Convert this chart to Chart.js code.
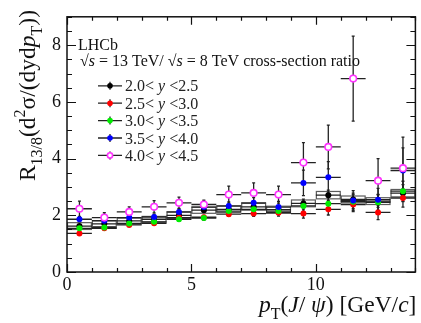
<!DOCTYPE html>
<html>
<head>
<meta charset="utf-8">
<script src="https://cdn.jsdelivr.net/npm/chart.js@4.4.1/dist/chart.umd.min.js"></script>
<style>
  html, body { margin: 0; padding: 0; background: #fff; }
  canvas { display: block; }
</style>
</head>
<body>
<canvas id="c" width="421" height="323"></canvas>
<script>
// J/psi pT bins [GeV/c]: centres and half widths
const ptCentres   = [0.5, 1.5, 2.5, 3.5, 4.5, 5.5, 6.5, 7.5, 8.5, 9.5, 10.5, 11.5, 12.5, 13.5];
const ptHalfWidth = [0.5, 0.5, 0.5, 0.5, 0.5, 0.5, 0.5, 0.5, 0.5, 0.5, 0.5, 0.5, 0.5, 0.5];

// rapidity intervals
const yLow  = [2.0, 2.5, 3.0, 3.5, 4.0];
const yHigh = [2.5, 3.0, 3.5, 4.0, 4.5];

// 13 TeV / 8 TeV cross-section ratio per rapidity interval
const ratioY20 = [1.62, 1.70, 1.80, 1.86, 2.00, 2.18, 2.21, 2.30, 2.20, 2.42, 2.71, 2.56, 2.50, 2.78];
const ratioY25 = [1.36, 1.54, 1.66, 1.72, 1.92, 1.93, 2.04, 2.06, 2.09, 2.06, 2.21, 2.38, 2.10, 2.61];
const ratioY30 = [1.54, 1.57, 1.71, 1.77, 1.86, 1.90, 2.15, 2.21, 2.15, 2.33, 2.41, 2.48, 2.46, 2.85];
const ratioY35 = [1.86, 1.81, 1.92, 1.94, 2.12, 2.29, 2.33, 2.44, 2.29, 3.14, 3.34, 2.52, 2.55, 3.58];
const ratioY40 = [2.23, 1.92, 2.12, 2.30, 2.44, 2.38, 2.73, 2.79, 2.73, 3.86, 4.41, 6.82, 3.22, 3.66];

// statistical uncertainties
const statY20 = [0.05, 0.05, 0.05, 0.05, 0.06, 0.07, 0.08, 0.10, 0.12, 0.15, 0.18, 0.22, 0.22, 0.30];
const statY25 = [0.06, 0.05, 0.05, 0.06, 0.06, 0.07, 0.08, 0.10, 0.12, 0.16, 0.20, 0.25, 0.25, 0.32];
const statY30 = [0.06, 0.05, 0.05, 0.06, 0.07, 0.08, 0.09, 0.11, 0.13, 0.18, 0.22, 0.25, 0.28, 0.35];
const statY35 = [0.08, 0.07, 0.07, 0.08, 0.10, 0.12, 0.14, 0.18, 0.20, 0.45, 0.55, 0.35, 0.40, 0.80];
const statY40 = [0.27, 0.17, 0.18, 0.22, 0.20, 0.15, 0.30, 0.35, 0.30, 0.70, 0.77, 1.50, 0.78, 1.10];

// systematic uncertainties of the 2.0<y<2.5 interval (boxes)
const systY20 = [0.12, 0.10, 0.10, 0.10, 0.11, 0.11, 0.11, 0.12, 0.12, 0.12, 0.13, 0.12, 0.12, 0.13];

// axis tick labels
const xTickValues = [0, 5, 10];
const yTickValues = [0, 2, 4, 6, 8];

const SERIF = '"Liberation Serif", "DejaVu Serif", serif';

const series = [
  { ratio: ratioY20, stat: statY20, syst: systY20, fill: '#000000', stroke: '#000000', open: false },
  { ratio: ratioY25, stat: statY25, syst: null, fill: '#ff0000', stroke: '#ff0000', open: false },
  { ratio: ratioY30, stat: statY30, syst: null, fill: '#00ee00', stroke: '#00ee00', open: false },
  { ratio: ratioY35, stat: statY35, syst: null, fill: '#0000ff', stroke: '#0000ff', open: false },
  { ratio: ratioY40, stat: statY40, syst: null, fill: '#ffffff', stroke: '#ff33ff', open: true }
];

// rich text: segments with optional italic / subscript / superscript
function segFont(s, size) {
  const fs = (s.sub || s.sup) ? size * 0.68 : size;
  return (s.it ? 'italic ' : '') + fs + 'px ' + SERIF;
}
function richWidth(ctx, segs, size) {
  let w = 0;
  for (const s of segs) { ctx.font = segFont(s, size); w += ctx.measureText(s.t).width; }
  return w;
}
function drawRich(ctx, segs, x, y, size) {
  ctx.textBaseline = 'alphabetic';
  ctx.textAlign = 'left';
  for (const s of segs) {
    ctx.font = segFont(s, size);
    const dy = s.sub ? size * 0.3 : (s.sup ? -size * 0.42 : 0);
    ctx.fillText(s.t, x, y + dy);
    x += ctx.measureText(s.t).width;
  }
  return x;
}

function drawMarker(ctx, x, y, r, st) {
  ctx.beginPath();
  ctx.arc(x, y, r, 0, Math.PI * 2);
  ctx.fillStyle = st.fill;
  ctx.fill();
  if (st.open) { ctx.lineWidth = 1.6; ctx.strokeStyle = st.stroke; ctx.stroke(); }
}

// error bars and systematic boxes, under the markers
const errorBarPlugin = {
  id: 'errorBars',
  beforeDatasetsDraw(chart) {
    const ctx = chart.ctx, xs = chart.scales.x, ys = chart.scales.y, a = chart.chartArea;
    ctx.save();
    ctx.beginPath();
    ctx.rect(a.left, a.top, a.right - a.left, a.bottom - a.top);
    ctx.clip();
    for (const st of series) {
      if (!st.syst) continue;
      ptCentres.forEach((c, i) => {
        const x0 = xs.getPixelForValue(c - ptHalfWidth[i]);
        const x1 = xs.getPixelForValue(c + ptHalfWidth[i]);
        const y0 = ys.getPixelForValue(st.ratio[i] + st.syst[i]);
        const y1 = ys.getPixelForValue(st.ratio[i] - st.syst[i]);
        ctx.strokeStyle = 'rgba(50,50,50,0.8)';
        ctx.lineWidth = 1.2;
        ctx.strokeRect(x0 + 0.5, y0, x1 - x0 - 1, y1 - y0);
      });
    }
    for (const st of series) {
      ptCentres.forEach((c, i) => {
        const px = xs.getPixelForValue(c);
        const py = ys.getPixelForValue(st.ratio[i]);
        const x0 = xs.getPixelForValue(c - ptHalfWidth[i]);
        const x1 = xs.getPixelForValue(c + ptHalfWidth[i]);
        const yHi = ys.getPixelForValue(st.ratio[i] + st.stat[i]);
        const yLo = ys.getPixelForValue(st.ratio[i] - st.stat[i]);
        ctx.strokeStyle = '#222';
        ctx.lineWidth = 1.3;
        ctx.beginPath();
        ctx.moveTo(x0, py); ctx.lineTo(x1, py);
        ctx.moveTo(px, yHi); ctx.lineTo(px, yLo);
        ctx.moveTo(px - 1.5, yHi); ctx.lineTo(px + 1.5, yHi);
        ctx.moveTo(px - 1.5, yLo); ctx.lineTo(px + 1.5, yLo);
        ctx.stroke();
      });
    }
    ctx.restore();
  }
};

// frame with inward ticks on all four sides
const framePlugin = {
  id: 'frame',
  afterDatasetsDraw(chart) {
    const ctx = chart.ctx, a = chart.chartArea, xs = chart.scales.x, ys = chart.scales.y;
    ctx.save();
    ctx.strokeStyle = '#111';
    ctx.lineWidth = 1.2;
    ctx.beginPath();
    for (let v = xs.min; v <= xs.max + 1e-9; v += 1) {
      const px = Math.round(xs.getPixelForValue(v)) + 0.5;
      const len = (v % 5 === 0) ? 8 : 4;
      ctx.moveTo(px, a.bottom); ctx.lineTo(px, a.bottom - len);
      ctx.moveTo(px, a.top); ctx.lineTo(px, a.top + len);
    }
    for (let v = ys.min; v <= ys.max + 1e-9; v += 0.5) {
      const py = Math.round(ys.getPixelForValue(v)) + 0.5;
      const len = (Math.abs(v % 2) < 1e-9) ? 9 : 5;
      ctx.moveTo(a.left, py); ctx.lineTo(a.left + len, py);
      ctx.moveTo(a.right, py); ctx.lineTo(a.right - len, py);
    }
    ctx.stroke();
    ctx.lineWidth = 1.5;
    ctx.strokeRect(a.left, a.top, a.right - a.left, a.bottom - a.top);
    ctx.restore();
  }
};

// labels, legend and axis titles
const textPlugin = {
  id: 'texts',
  afterDraw(chart) {
    const ctx = chart.ctx, a = chart.chartArea;
    ctx.save();
    ctx.fillStyle = '#111';

    drawRich(ctx, [{ t: 'LHCb' }], a.left + 11, a.top + 33, 16);
    drawRich(ctx, [
      { t: '\u221A' }, { t: 's', it: true }, { t: ' = 13 TeV/ ' },
      { t: '\u221A' }, { t: 's', it: true }, { t: ' = 8 TeV cross-section ratio' }
    ], a.left + 13, a.top + 49, 16);

    // legend
    series.forEach((st, k) => {
      const rowY = a.top + 69 + k * 17.4;
      const mx = a.left + 43;
      ctx.strokeStyle = '#222';
      ctx.lineWidth = 1.3;
      ctx.beginPath();
      ctx.moveTo(mx - 12, rowY); ctx.lineTo(mx + 12, rowY);
      ctx.moveTo(mx, rowY - 4); ctx.lineTo(mx, rowY + 4);
      ctx.stroke();
      drawMarker(ctx, mx, rowY, st.open ? 2.6 : 2.8, st);
      ctx.fillStyle = '#222';
      drawRich(ctx, [
        { t: yLow[k].toFixed(1) + '< ' }, { t: 'y', it: true }, { t: ' <' + yHigh[k].toFixed(1) }
      ], mx + 15, rowY + 5.5, 16);
    });

    // x title, right aligned to the frame
    ctx.fillStyle = '#111';
    const xTitle = [
      { t: 'p', it: true }, { t: 'T', sub: true }, { t: '(' }, { t: 'J', it: true }, { t: '/ ' },
      { t: '\u03C8', it: true }, { t: ') [GeV/' }, { t: 'c', it: true }, { t: ']' }
    ];
    const xw = richWidth(ctx, xTitle, 23.5);
    drawRich(ctx, xTitle, a.right + 1 - xw, 312, 23.5);

    // y title, rotated, aligned to the top of the frame
    const yTitle = [
      { t: 'R' }, { t: '13/8', sub: true }, { t: '(d' }, { t: '2', sup: true }, { t: '\u03C3/(dyd' },
      { t: 'p', it: true }, { t: 'T', sub: true }, { t: '))' }
    ];
    const yw = richWidth(ctx, yTitle, 23.5);
    ctx.translate(35, 10 + yw);
    ctx.rotate(-Math.PI / 2);
    drawRich(ctx, yTitle, 0, 0, 23.5);
    ctx.restore();
  }
};

const datasets = series.map((st, k) => ({
  data: ptCentres.map((c, i) => ({ x: c, y: st.ratio[i] })),
  showLine: false,
  pointStyle: 'circle',
  pointRadius: st.open ? 3.3 : 3,
  pointBackgroundColor: st.fill,
  pointBorderColor: st.stroke,
  pointBorderWidth: st.open ? 1.6 : 0,
  order: series.length - k
}));

new Chart(document.getElementById('c'), {
  type: 'scatter',
  data: { datasets },
  options: {
    responsive: false,
    animation: false,
    devicePixelRatio: 1,
    layout: { padding: { top: 13, right: 4, left: 0, bottom: 0 } },
    plugins: { legend: { display: false }, tooltip: { enabled: false } },
    scales: {
      x: {
        type: 'linear', min: 0, max: 14,
        grid: { display: false, drawTicks: false }, border: { display: false },
        afterBuildTicks: s => { s.ticks = xTickValues.map(v => ({ value: v })); },
        afterFit: s => { s.height = 51; },
        ticks: { font: { family: SERIF, size: 18 }, color: '#111', padding: 2, maxRotation: 0, autoSkip: false }
      },
      y: {
        type: 'linear', min: 0, max: 9,
        grid: { display: false, drawTicks: false }, border: { display: false },
        afterBuildTicks: s => { s.ticks = yTickValues.map(v => ({ value: v })); },
        afterFit: s => { s.width = 67; },
        ticks: { font: { family: SERIF, size: 18 }, color: '#111', padding: 6, autoSkip: false }
      }
    }
  },
  plugins: [errorBarPlugin, framePlugin, textPlugin]
});
</script>
</body>
</html>
